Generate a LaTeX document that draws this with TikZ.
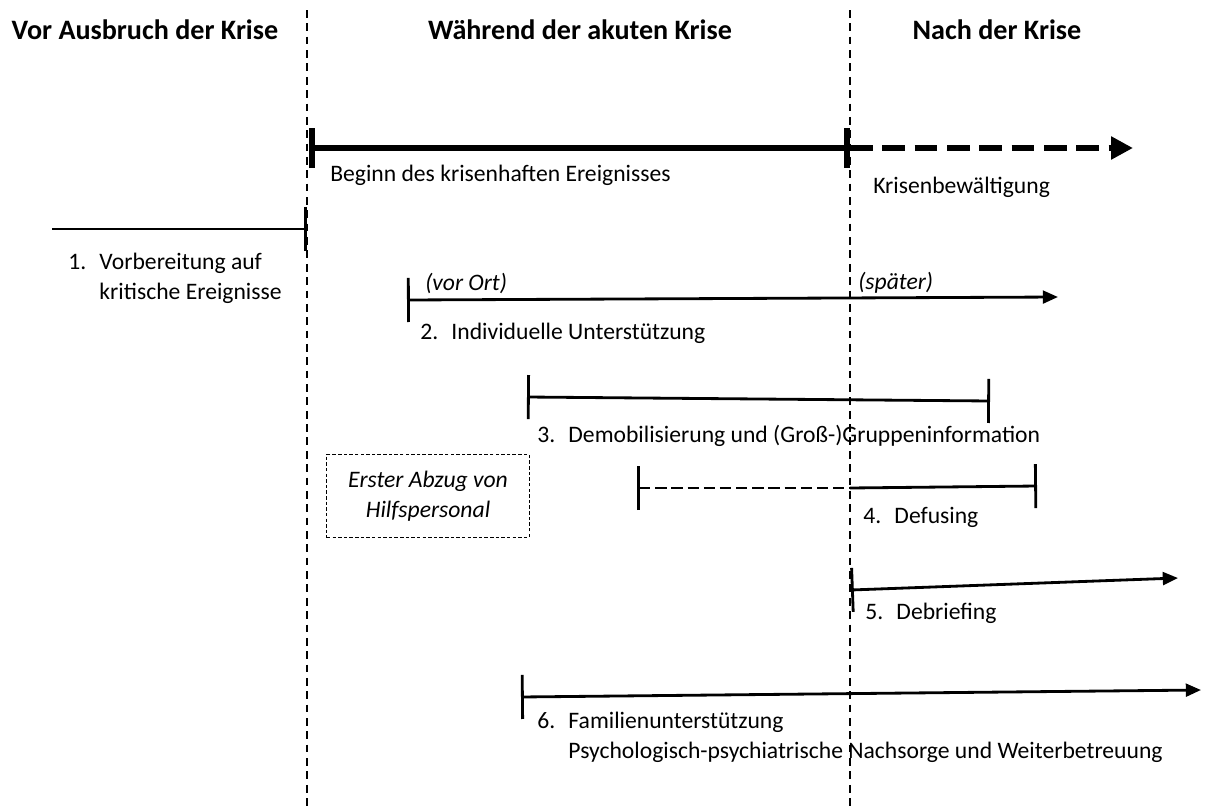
\documentclass[tikz,border=0pt]{standalone}
\usepackage{fontspec}
\setmainfont{Carlito}
\usepackage{tikz}
\usetikzlibrary{arrows.meta}
\tikzstyle{node:heading}=[inner sep=0pt, font=\fontsize{20}{22}\selectfont\bfseries]
\tikzstyle{node:label}=[anchor=west, inner sep=0pt, align=left, font=\fontsize{16.8}{21.3}\selectfont]
\tikzstyle{node:remark}=[anchor=west, inner sep=0pt, font=\fontsize{16.8}{20}\selectfont\itshape]
\tikzstyle{node:box}=[draw, dashed, dash pattern=on 2.5pt off 1.5pt, line width=0.7pt, minimum width=5.05cm, minimum height=2.075cm, align=center, font=\fontsize{16.8}{21.3}\selectfont\itshape]
\tikzstyle{draw:phase}=[line width=0.8pt, dash pattern=on 5.5pt off 4pt]
\tikzstyle{draw:crisis}=[line width=4.3pt, {Bar[width=1cm]}-{Bar[width=1cm]}]
\tikzstyle{draw:coping}=[line width=4.3pt, dash pattern=on 16pt off 7pt, -{Triangle[length=0.55cm,width=0.55cm]}]
\tikzstyle{draw:span}=[line width=2pt, {Bar[width=1.1cm]}-{Bar[width=1.1cm]}]
\tikzstyle{draw:open}=[line width=2pt, {Bar[width=1.1cm]}-{Triangle[length=0.38cm,width=0.32cm]}]
\newcommand{\itemno}[1]{\makebox[0.78cm][l]{#1}}

\begin{document}
\begin{tikzpicture}[x=0.025cm, y=-0.025cm]
        \useasboundingbox (0,0) rectangle (1206,809);

        % Phase borders
        \coordinate (div1_top) at (307,10);
        \coordinate (div1_bot) at (307,809);
        \coordinate (div2_top) at (850,10);
        \coordinate (div2_bot) at (850,809);
        \draw[draw:phase] (div1_top) -- (div1_bot);
        \draw[draw:phase] (div2_top) -- (div2_bot);

        % Headings
        \node[node:heading] (h_before) at (145,30) {Vor Ausbruch der Krise};
        \node[node:heading] (h_during) at (580,30) {Während der akuten Krise};
        \node[node:heading] (h_after) at (997,30) {Nach der Krise};

        % Crisis and coping
        \coordinate (crisis_start) at (309,148);
        \coordinate (crisis_end) at (850,148);
        \coordinate (coping_end) at (1133,148);
        \draw[draw:crisis] (crisis_start) -- (crisis_end);
        \draw[draw:coping] (crisis_end) -- (coping_end);
        \node[node:label] (crisis) at (330,175) {Beginn des krisenhaften Ereignisses};
        \node[node:label] (coping) at (873,187) {Krisenbewältigung};

        % 1. Preparation
        \coordinate (prep_start) at (52,229);
        \coordinate (prep_end) at (307,229);
        \draw[line width=2pt, -{Bar[width=1.1cm]}] (prep_start) -- (prep_end);
        \node[node:label] (prep) at (68,278) {\itemno{1.}Vorbereitung auf\\\hspace{0.78cm}kritische Ereignisse};

        % 2. Individual support
        \coordinate (ind_start) at (407,300);
        \coordinate (ind_end) at (1058,297);
        \draw[draw:open] (ind_start) -- (ind_end);
        \node[node:remark] (onsite) at (425,283) {(vor Ort)};
        \node[node:remark] (later) at (858,283) {(später)};
        \node[node:label] (ind) at (420,333) {\itemno{2.}Individuelle Unterstützung};

        % 3. Demobilisation
        \coordinate (demob_start) at (527,397);
        \coordinate (demob_end) at (990,401);
        \draw[draw:span] (demob_start) -- (demob_end);
        \node[node:label] (demob) at (537,436) {\itemno{3.}Demobilisierung und (Groß-)Gruppeninformation};

        % First withdrawal
        \node[node:box] (withdraw) at (428,496) {Erster Abzug von\\Hilfspersonal};

        % 4. Defusing
        \coordinate (defuse_start) at (637,488);
        \coordinate (defuse_mid) at (850,488);
        \coordinate (defuse_end) at (1037,486);
        \draw[line width=2pt, dash pattern=on 8pt off 3.5pt, {Bar[width=1.1cm]}-] (defuse_start) -- (defuse_mid);
        \draw[line width=2pt, -{Bar[width=1.1cm]}] (defuse_mid) -- (defuse_end);
        \node[node:label] (defuse) at (863,517) {\itemno{4.}Defusing};

        % 5. Debriefing
        \coordinate (debrief_start) at (851,590);
        \coordinate (debrief_end) at (1178,578);
        \draw[draw:open] (debrief_start) -- (debrief_end);
        \node[node:label] (debrief) at (865,613) {\itemno{5.}Debriefing};

        % 6. Family support
        \coordinate (family_start) at (521,697);
        \coordinate (family_end) at (1201,690);
        \draw[draw:open] (family_start) -- (family_end);
        \node[node:label] (family) at (537,737) {\itemno{6.}Familienunterstützung\\\hspace{0.78cm}Psychologisch-psychiatrische Nachsorge und Weiterbetreuung};

\end{tikzpicture}
\end{document}
